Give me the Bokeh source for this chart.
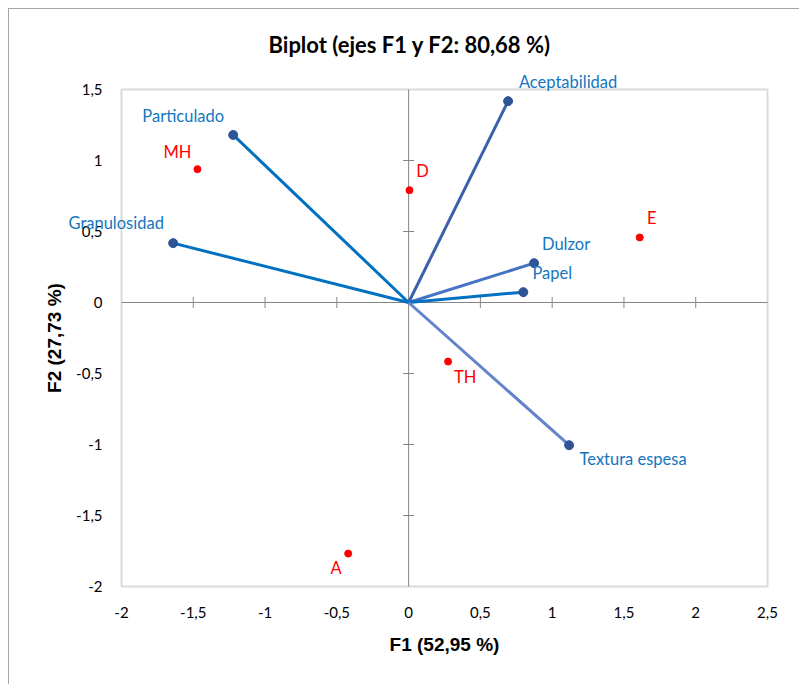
from bokeh.plotting import figure
from bokeh.models import (FixedTicker, CustomJSTickFormatter, InlineStyleSheet, Label, BoxAnnotation, Range1d)
from bokeh.embed import file_html
from bokeh.resources import INLINE
import math

# ---- data ----
var_names = ["Particulado", "Granulosidad", "Aceptabilidad", "Dulzor", "Papel", "Textura espesa"]
var_f1 = [-1.222, -1.640, 0.693, 0.874, 0.799, 1.118]
var_f2 = [1.180, 0.418, 1.418, 0.277, 0.073, -1.005]
var_line_colors = ["#0070C0", "#0070C0", "#3A60AC", "#4472C4", "#0070C0", "#6384CC"]

obs_names = ["MH", "D", "E", "TH", "A"]
obs_f1 = [-1.471, 0.006, 1.610, 0.275, -0.421]
obs_f2 = [0.939, 0.791, 0.458, -0.416, -1.768]

x_ticks = [-2, -1.5, -1, -0.5, 0, 0.5, 1, 1.5, 2, 2.5]
y_ticks = [-2, -1.5, -1, -0.5, 0, 0.5, 1, 1.5]

title_text = "Biplot (ejes F1 y F2: 80,68 %)"
x_title = "F1 (52,95 %)"
y_title = "F2 (27,73 %)"

# label offsets (pixels, positive = up) - styling
var_dx = [-50, -57, 60, 32, 29, 64]
var_dy = [19, 20, 19, 19, 19, -14]
obs_dx = [-20, 13, 12, 17, -12]
obs_dy = [17, 19, 19, -15, -14]

# ---- layout geometry (pixels) ----
W, H = 799, 684
box_l, box_r, box_t, box_b = 121, 767, 89, 586       # visible plot box
fr_l, fr_r, fr_t, fr_b = 10, 795, 62, 676             # drawing frame (larger, avoids clipping)

x_lo, x_hi = x_ticks[0], x_ticks[-1]
y_lo, y_hi = y_ticks[0], y_ticks[-1]
sx = (box_r - box_l) / (x_hi - x_lo)
sy = (box_b - box_t) / (y_hi - y_lo)
xr = Range1d(x_lo - (box_l - fr_l) / sx, x_hi + (fr_r - box_r) / sx)
yr = Range1d(y_lo - (fr_b - box_b) / sy, y_hi + (box_t - fr_t) / sy)

p = figure(width=W, height=H, x_range=xr, y_range=yr,
           output_backend="svg", toolbar_location=None,
           min_border_left=fr_l, min_border_right=W - fr_r,
           min_border_top=fr_t, min_border_bottom=H - fr_b)

p.title.text = title_text
p.title.align = "left"
p.title.offset = 268 - fr_l
p.title.text_font = "Lato"
p.title.text_font_style = "bold"
p.title.text_font_size = "22px"
p.title.text_color = "#000000"
p.title.standoff = 9

p.grid.visible = False
p.outline_line_color = None
p.background_fill_color = "white"
p.border_fill_color = "white"

fmt = CustomJSTickFormatter(code="return tick.toString().replace('.', ',');")

for ax, ticks in ((p.xaxis[0], x_ticks), (p.yaxis[0], y_ticks)):
    ax.ticker = FixedTicker(ticks=ticks)
    ax.bounds = (ticks[0], ticks[-1])
    ax.formatter = fmt
    ax.axis_line_color = None
    ax.major_tick_line_color = None
    ax.minor_tick_line_color = None
    ax.major_label_text_font = "Lato"
    ax.major_label_text_font_size = "15px"
    ax.major_label_text_color = "#000000"
    ax.axis_label_text_font = "Liberation Sans"
    ax.axis_label_text_font_style = "bold"
    ax.axis_label_text_font_size = "19px"
    ax.axis_label_text_color = "#000000"

p.xaxis[0].fixed_location = y_lo
p.yaxis[0].fixed_location = x_lo
p.xaxis[0].axis_label = x_title
p.yaxis[0].axis_label = y_title
p.xaxis[0].major_label_standoff = 14
p.yaxis[0].major_label_standoff = 13
p.xaxis[0].axis_label_standoff = 13
p.yaxis[0].axis_label_standoff = 8

# plot box
p.add_layout(BoxAnnotation(left=x_lo, right=x_hi, bottom=y_lo, top=y_hi,
                           fill_color=None, line_color="#868686", line_width=2))

# crossing axes at origin
p.segment(x0=[0, x_lo], y0=[y_lo, 0], x1=[0, x_hi], y1=[y_hi, 0],
          line_color="#868686", line_width=1)
x_inner = [t for t in x_ticks[1:-1] if t != 0]
y_inner = [t for t in y_ticks[1:-1] if t != 0]
p.scatter(x_inner, [0] * len(x_inner), marker="dash", size=11, angle=math.pi / 2,
          line_color="#868686", line_width=1)
p.scatter([0] * len(y_inner), y_inner, marker="dash", size=11,
          line_color="#868686", line_width=1)

# vectors
for i in range(len(var_names)):
    p.line([0, var_f1[i]], [0, var_f2[i]], line_color=var_line_colors[i], line_width=3)

p.scatter(var_f1, var_f2, size=9, fill_color="#2F5597", line_color="#2F5597")
p.scatter(obs_f1, obs_f2, size=7, fill_color="#FF0000", line_color="#FF0000")

for n, x, y, dx, dy in zip(var_names, var_f1, var_f2, var_dx, var_dy):
    p.add_layout(Label(x=x, y=y, text=n, x_offset=dx, y_offset=dy,
                       text_align="center", text_baseline="middle", text_color="#1476BE",
                       text_font="Lato", text_font_size="16.5px"))
for n, x, y, dx, dy in zip(obs_names, obs_f1, obs_f2, obs_dx, obs_dy):
    p.add_layout(Label(x=x, y=y, text=n, x_offset=dx, y_offset=dy,
                       text_align="center", text_baseline="middle", text_color="#FF0000",
                       text_font="Lato", text_font_size="16.5px"))

p.stylesheets = [InlineStyleSheet(css=":host::after {content:''; position:absolute; left:8px; top:8px; right:-20px; bottom:-20px; border:1.5px solid #A6A6A6; pointer-events:none;}")]

open("out.html", "w").write(file_html(p, INLINE))
